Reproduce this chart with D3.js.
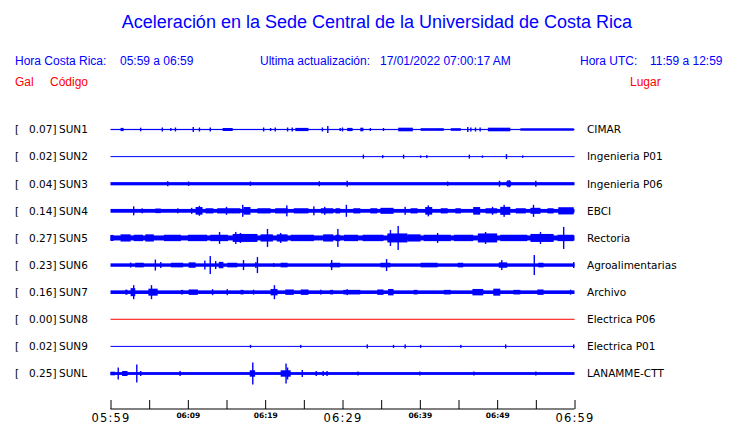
<!DOCTYPE html>
<html><head><meta charset="utf-8">
<script src="https://cdn.jsdelivr.net/npm/d3@7"></script>
<style>body{margin:0;background:#fff}svg{display:block}</style>
</head><body>
<svg id="c" width="740" height="423"></svg>
<script>
// ---------- data ----------
const stations = ["SUN1","SUN2","SUN3","SUN4","SUN5","SUN6","SUN7","SUN8","SUN9","SUNL"];
const peakGal  = ["0.07","0.02","0.04","0.14","0.27","0.23","0.16","0.00","0.02","0.25"];
const places   = ["CIMAR","Ingenieria P01","Ingenieria P06","EBCI","Rectoria","Agroalimentarias","Archivo","Electrica P06","Electrica P01","LANAMME-CTT"];
const baseAmp  = [0.6,0.5,1.6,1.9,2.5,1.7,1.8,0.5,0.5,1.4];
const traceCol = ["blue","blue","blue","blue","blue","blue","blue","red","blue","blue"];
const tickMinutes = [0,5,10,15,20,25,30,35,40,45,50,55,60];
const tickLabels = ["05:59","","06:09","","06:19","","06:29","","06:39","","06:49","","06:59"];
const bigLabels = ["05:59","06:29","06:59"];

// bursts: [startMin, endMin, halfAmp]; spikes: [min, halfAmp]
const sun1Bursts = [[1.3,1.7,1.6],[14.5,15.8,1.5],[23.9,25.6,1.6],[30.6,31.3,1.6],[32.3,32.7,1.8],[37.2,39.1,1.8],[40.1,43.1,1.3],[44.0,45.3,1.3],[48.8,51.7,1.8],[53.0,59.9,1.2]];
const sun1Spikes = [[3.9,1.8],[6.7,2],[7.8,1.5],[8.4,2],[10.7,2.5],[11.5,2],[12.9,2],[19.8,2],[20.7,1.5],[21.3,2],[22.9,2],[23.5,2],[27.4,2],[28.1,3.5],[29.7,1.5],[30.0,2],[33.6,1.5],[35.3,1.5],[46.2,2.5],[46.6,2],[47.2,2],[47.8,2]];
const sun2Bursts = [];
const sun2Spikes = [[32.7,2],[35.2,1.5],[37.9,2],[40.1,1.2],[40.9,1.5],[46.4,2],[48.1,1.2],[51.2,2.5],[53.3,1.2]];
const sun3Bursts = [[51.2,51.8,2.5]];
const sun3Spikes = [[7.4,2.5],[10.1,2.2],[18.1,2.2],[27.0,2.5],[30.6,3],[43.6,2.2],[50.3,3],[51.4,3.5],[51.6,3.5],[55.0,3]];
const sun4Bursts = [[5.8,6.5,2.3],[11.0,11.9,3.8],[12.3,13.3,2.6],[13.8,16.8,2.6],[17.2,18.1,3.8],[19.0,20.7,2.6],[21.3,22.9,2.6],[23.7,25.6,2.6],[27.2,28.8,2.6],[29.1,29.7,2.6],[31.4,32.3,2.6],[33.6,34.5,2.6],[34.9,36.6,3],[38.8,39.7,2.6],[40.7,41.6,3.8],[42.7,43.6,2.6],[44.6,45.3,2.6],[46.9,47.8,3.8],[48.5,50.0,2.6],[50.4,51.7,4],[52.4,53.7,2.6],[54.3,55.6,3],[56.5,57.3,2.6],[57.9,59.9,3.6]];
const sun4Spikes = [[3.0,4.5],[4.1,2.5],[8.7,2.5],[10.5,3],[11.5,5],[15.0,4],[17.1,6],[22.8,5.5],[26.3,4.5],[27.7,4],[30.5,6],[38.1,4],[41.1,5.5],[49.4,4],[50.9,6],[54.7,6]];
const sun5Bursts = [[0,0.4,3],[1.3,2.6,3.6],[3.0,4.2,3.2],[4.5,5.6,3.6],[6.9,9.1,3.2],[10.0,12.5,3.2],[12.9,15.2,3.2],[15.8,19.0,4],[19.4,21.0,3.6],[21.5,22.9,3.6],[23.3,26.3,3.2],[27.5,28.8,3.6],[29.1,29.7,3.2],[30.2,32.0,3.2],[32.6,35.3,3.2],[35.8,38.4,4.5],[38.4,40.1,3.6],[40.5,44.0,3.2],[44.4,46.9,3.2],[47.5,50.0,4.5],[50.4,53.9,3.2],[54.3,57.3,4],[57.8,59.9,3.2]];
const sun5Spikes = [[14.1,6],[16.2,6],[16.8,5],[20.3,9],[22.0,5],[29.4,9],[36.2,8],[37.2,12],[42.3,5],[48.5,6],[55.6,6],[58.6,11]];
const sun6Bursts = [[3.2,4.3,2.3],[7.8,9.4,2.3],[10.1,11.0,2.7],[14.0,14.6,3.2],[15.1,16.4,2.3],[22.0,22.9,2.3],[28.4,29.7,2.3],[34.9,36.2,2.3],[40.1,42.3,2.3],[44.9,45.6,2.3],[50.2,51.3,2.7],[55.3,56.0,2.3]];
const sun6Spikes = [[2.6,2.5],[5.8,5.5],[6.5,3],[12.2,4.5],[12.9,9],[13.6,4],[17.2,5],[18.8,3],[19.0,8],[21.1,2],[28.6,5],[35.7,6],[50.6,5],[54.8,10],[59.9,3]];
const sun7Bursts = [[1.9,2.2,2.5],[2.6,3.2,4],[4.9,6.1,3.5],[9.1,9.4,2.3],[10.1,11.3,2.7],[16.8,17.2,2.3],[20.7,21.6,3.2],[22.6,23.7,2.7],[24.6,25.6,2.7],[28.4,28.8,2.3],[30.1,32.3,2.3],[34.5,35.3,2.7],[35.9,36.6,3.2],[39.2,39.7,2.3],[43.1,44.0,2.3],[46.8,48.2,3.2],[49.5,50.4,3.5],[52.1,53.0,2.3],[55.2,56.0,2.7]];
const sun7Spikes = [[3.0,7],[5.3,7],[13.2,3],[15.1,3],[18.5,2.5],[21.2,7],[27.2,2.5],[30.6,3],[59.5,2.5]];
const sun8Bursts = [];
const sun8Spikes = [];
const sun9Bursts = [];
const sun9Spikes = [[18.1,1.5],[24.6,1.5],[33.2,2],[36.6,1.5],[38.1,2],[40.1,1.5],[45.3,1.5],[51.1,2],[59.9,2]];
const sunLBursts = [[0,0.6,1.8],[1.5,2.2,2.5],[18.0,18.7,3.2],[22.0,23.3,3.2]];
const sunLSpikes = [[1.0,6],[3.4,9],[3.9,2.5],[9.0,2.5],[18.4,11],[22.7,10],[22.9,6],[24.8,3.5],[26.6,2.5],[27.5,2.5],[28.0,2.5],[32,2],[40,2],[47,2],[55,2]];

const bursts = [sun1Bursts,sun2Bursts,sun3Bursts,sun4Bursts,sun5Bursts,sun6Bursts,sun7Bursts,sun8Bursts,sun9Bursts,sunLBursts];
const spikes = [sun1Spikes,sun2Spikes,sun3Spikes,sun4Spikes,sun5Spikes,sun6Spikes,sun7Spikes,sun8Spikes,sun9Spikes,sunLSpikes];

// ---------- drawing ----------
const svg = d3.select("#c");
const t0 = new Date(2022,0,17,5,59);
const t = m => new Date(t0.getTime() + m*60000);
const x = d3.scaleTime().domain([t(0), t(60)]).range([110.5, 574.5]);
const y = d3.scalePoint().domain(stations).range([129.5, 373.5]);
const a = d3.scaleLinear().domain([0, 1]).range([0, 1]);

const hdr = "Liberation Sans, Arial, sans-serif";
const lab = "DejaVu Sans, sans-serif";

svg.append("text").attr("x", 377).attr("y", 28).attr("text-anchor","middle")
  .attr("font-family", hdr).attr("font-size", 18).attr("fill","#0000ff")
  .text("Aceleración en la Sede Central de la Universidad de Costa Rica");

const h2 = [["Hora Costa Rica:",15],["05:59 a 06:59",120],["Ultima actualización:",260],["17/01/2022 07:00:17 AM",380],["Hora UTC:",580],["11:59 a 12:59",650]];
svg.selectAll(".h2").data(h2).join("text").attr("x", d=>d[1]).attr("y", 65)
  .attr("font-family", hdr).attr("font-size", 12).attr("fill","#0000ff").text(d=>d[0]);
const h3 = [["Gal",15],["Código",50],["Lugar",630]];
svg.selectAll(".h3").data(h3).join("text").attr("x", d=>d[1]).attr("y", 86)
  .attr("font-family", hdr).attr("font-size", 12).attr("fill","#ff0000").text(d=>d[0]);

stations.forEach((s, i) => {
  const cy = y(s);
  const g = svg.append("g");
  const col = traceCol[i];
  g.append("rect").attr("x", x(t(0))).attr("width", x(t(60)) - x(t(0)))
    .attr("y", cy - a(baseAmp[i])).attr("height", 2*a(baseAmp[i])).attr("fill", col);
  g.selectAll(".b").data(bursts[i]).join("rect")
    .attr("x", d => x(t(d[0]))).attr("width", d => Math.max(1, x(t(d[1])) - x(t(d[0]))))
    .attr("y", d => cy - a(d[2])).attr("height", d => 2*a(d[2])).attr("fill", col);
  g.selectAll(".s").data(spikes[i]).join("rect")
    .attr("x", d => x(t(d[0])) - 0.7).attr("width", 1.4)
    .attr("y", d => cy - a(d[1])).attr("height", d => 2*a(d[1])).attr("fill", col);

  const tl = svg.append("g").attr("font-family", lab).attr("font-size", 10.5).attr("fill","#000");
  tl.append("text").attr("x", 15).attr("y", cy).attr("dy","0.36em").text("[");
  tl.append("text").attr("x", 56.5).attr("y", cy).attr("dy","0.36em").attr("text-anchor","end").text(peakGal[i] + "]");
  tl.append("text").attr("x", 59).attr("y", cy).attr("dy","0.36em").text(s);
  tl.append("text").attr("x", 587).attr("y", cy).attr("dy","0.36em").text(places[i]);
});

// axis
const axis = d3.axisBottom(x).tickValues(tickMinutes.map(t)).tickSize(9).tickSizeOuter(0)
  .tickFormat((d, i) => tickLabels[i]);
const ag = svg.append("g").attr("transform","translate(0,400)").call(axis);
ag.select(".domain").remove();
ag.append("line").attr("x1", x(t(0))).attr("x2", x(t(60))).attr("y1", 9).attr("y2", 9).attr("stroke","#000");
ag.selectAll(".tick line").attr("y1", 0).attr("y2", 9).attr("stroke","#000");
ag.selectAll(".tick text").attr("font-family", lab).attr("dy", null)
  .each(function(d, i) {
    const big = bigLabels.includes(tickLabels[i]);
    d3.select(this).attr("y", big ? 21.5 : 18)
      .attr("font-size", big ? 11.5 : 7.5)
      .attr("font-weight", big ? "normal" : "bold")
      .attr("letter-spacing", big ? 1.2 : 0)
      .attr("fill","#000");
  });
</script>
</body></html>
